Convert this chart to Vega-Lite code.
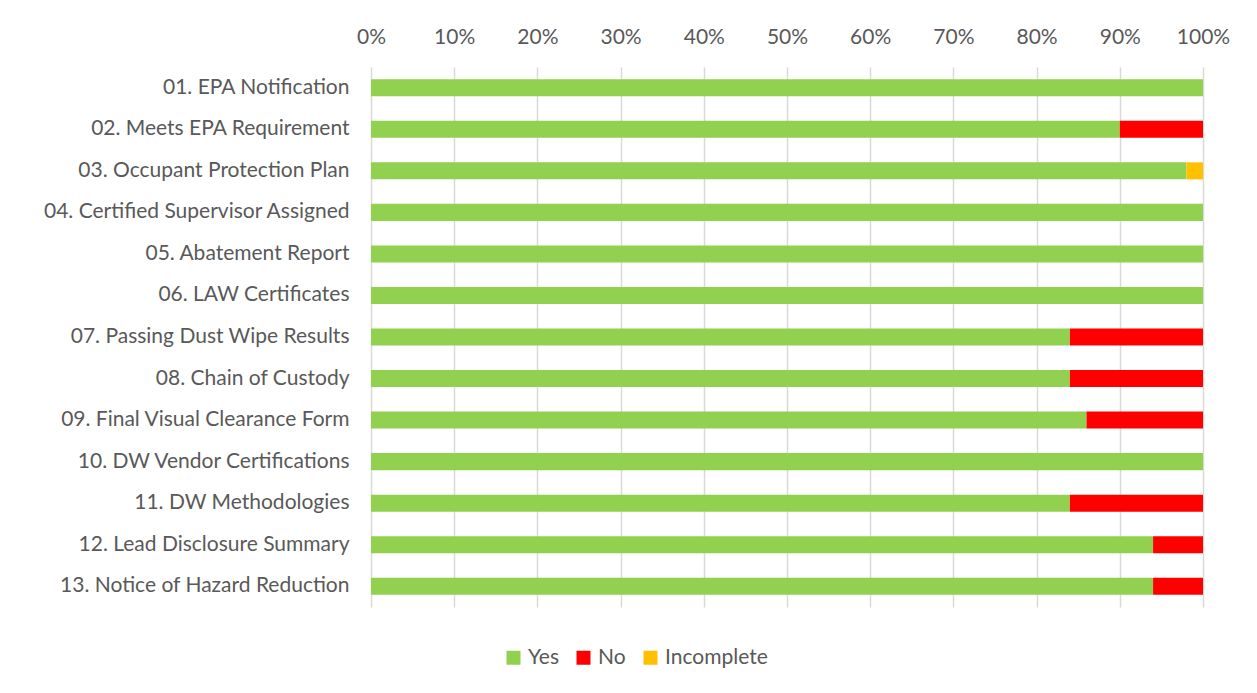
{
  "$schema": "https://vega.github.io/schema/vega-lite/v6.json",
  "width": 832,
  "height": 540,
  "autosize": {"type": "none"},
  "padding": {"left": 371, "top": 67, "right": 54, "bottom": 86},
  "background": "white",
  "config": {
    "view": {"stroke": null},
    "font": "Lato",
    "axis": {"labelFont": "Lato", "labelColor": "#595959", "labelFontSize": 21}
  },
  "data": {
    "values": [
      {"item": "01. EPA Notification", "status": "Yes", "o": 1, "pct": 100},
      {"item": "02. Meets EPA Requirement", "status": "Yes", "o": 1, "pct": 90},
      {"item": "02. Meets EPA Requirement", "status": "No", "o": 2, "pct": 10},
      {"item": "03. Occupant Protection Plan", "status": "Yes", "o": 1, "pct": 98},
      {"item": "03. Occupant Protection Plan", "status": "Incomplete", "o": 3, "pct": 2},
      {"item": "04. Certified Supervisor Assigned", "status": "Yes", "o": 1, "pct": 100},
      {"item": "05. Abatement Report", "status": "Yes", "o": 1, "pct": 100},
      {"item": "06. LAW Certificates", "status": "Yes", "o": 1, "pct": 100},
      {"item": "07. Passing Dust Wipe Results", "status": "Yes", "o": 1, "pct": 84},
      {"item": "07. Passing Dust Wipe Results", "status": "No", "o": 2, "pct": 16},
      {"item": "08. Chain of Custody", "status": "Yes", "o": 1, "pct": 84},
      {"item": "08. Chain of Custody", "status": "No", "o": 2, "pct": 16},
      {"item": "09. Final Visual Clearance Form", "status": "Yes", "o": 1, "pct": 86},
      {"item": "09. Final Visual Clearance Form", "status": "No", "o": 2, "pct": 14},
      {"item": "10. DW Vendor Certifications", "status": "Yes", "o": 1, "pct": 100},
      {"item": "11. DW Methodologies", "status": "Yes", "o": 1, "pct": 84},
      {"item": "11. DW Methodologies", "status": "No", "o": 2, "pct": 16},
      {"item": "12. Lead Disclosure Summary", "status": "Yes", "o": 1, "pct": 94},
      {"item": "12. Lead Disclosure Summary", "status": "No", "o": 2, "pct": 6},
      {"item": "13. Notice of Hazard Reduction", "status": "Yes", "o": 1, "pct": 94},
      {"item": "13. Notice of Hazard Reduction", "status": "No", "o": 2, "pct": 6}
    ]
  },
  "mark": {"type": "bar"},
  "encoding": {
    "y": {
      "field": "item",
      "type": "nominal",
      "sort": null,
      "title": null,
      "scale": {"paddingInner": 0.59, "paddingOuter": 0.295},
      "axis": {"domain": false, "ticks": false, "labelPadding": 22, "grid": false, "labelLimit": 400}
    },
    "x": {
      "field": "pct",
      "type": "quantitative",
      "stack": "normalize",
      "title": null,
      "scale": {"domain": [0, 1], "nice": false},
      "axis": {
        "orient": "top",
        "format": ".0%",
        "values": [0, 0.1, 0.2, 0.3, 0.4, 0.5, 0.6, 0.7, 0.8, 0.9, 1],
        "domain": false,
        "ticks": false,
        "labelFlush": false,
        "labelPadding": 20,
        "grid": true,
        "gridColor": "#D9D9D9",
        "gridWidth": 1.5
      }
    },
    "color": {
      "field": "status",
      "type": "nominal",
      "scale": {"domain": ["Yes", "No", "Incomplete"], "range": ["#92D050", "#FF0000", "#FFC000"]},
      "legend": {
        "title": null,
        "orient": "none",
        "direction": "horizontal",
        "legendX": 132,
        "legendY": 580,
        "symbolType": "square",
        "symbolSize": 196,
        "symbolStrokeWidth": 0,
        "labelFont": "Lato",
        "labelFontSize": 21,
        "labelColor": "#595959",
        "columnPadding": 14,
        "labelOffset": 4
      }
    },
    "order": {"field": "o", "type": "quantitative"}
  }
}
